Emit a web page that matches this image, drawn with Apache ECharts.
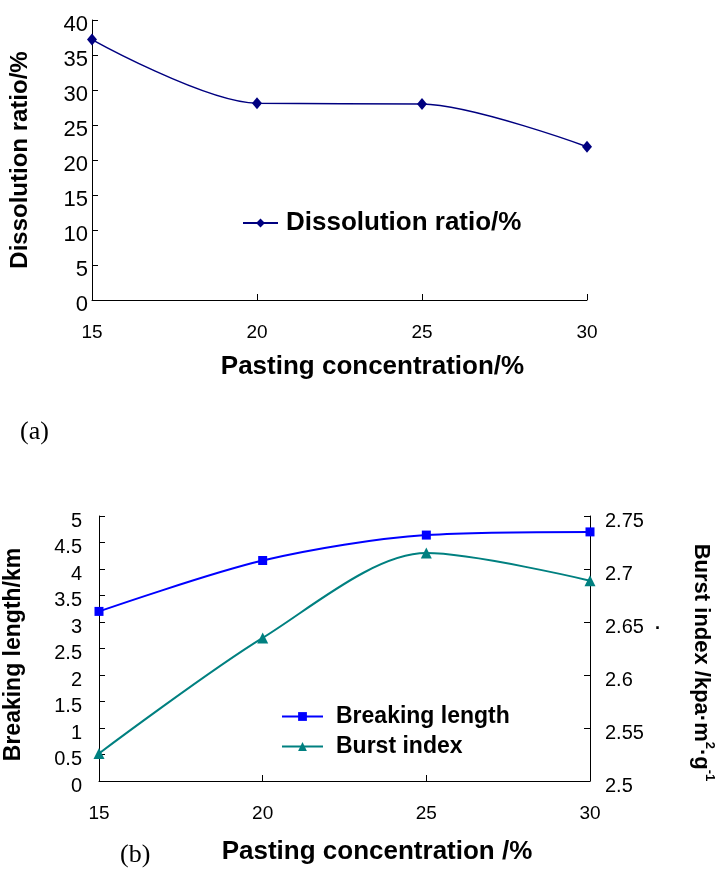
<!DOCTYPE html>
<html>
<head>
<meta charset="utf-8">
<script src="https://cdn.jsdelivr.net/npm/echarts@6/dist/echarts.min.js"></script>
<style>
  html, body { margin: 0; padding: 0; background: #fff; }
  #chart { width: 716px; height: 873px; }
</style>
</head>
<body>
<div id="chart"></div>
<script>
// pasting concentration (%)
const concentration = [15, 20, 25, 30];
// (a) dissolution ratio (%)
const dissolutionRatio = [37.2, 28.1, 28.0, 21.9];
// (b) breaking length (km) and burst index (kpa·m2·g-1)
const breakingLength = [3.2, 4.16, 4.64, 4.7];
const burstIndex = [2.526, 2.635, 2.715, 2.689];

const FONT = "Liberation Sans, Arial, sans-serif";

const pairs = (xs, ys) => xs.map((x, i) => [x, ys[i]]);
const fmt = v => "{t|" + String(Number(v.toFixed(2))) + "}";

const axisCommon = {
  axisLine: { show: true, lineStyle: { color: "#000", width: 1 } },
  axisTick: { show: true, inside: true, length: 6, lineStyle: { color: "#000" } },
  splitLine: { show: false },
  nameTextStyle: { color: "#000", fontFamily: FONT, fontWeight: "bold" }
};

// y tick labels sit a little below their ticks in the original
const yLabel = (size, margin) => ({
  color: "#000", fontSize: size, fontFamily: FONT, margin: margin, formatter: fmt,
  rich: { t: { fontSize: size, fontFamily: FONT, color: "#000", padding: [10, 0, 0, 0] } }
});
const xLabel = { color: "#000", fontSize: 19, fontFamily: FONT, margin: 23 };

const chart = echarts.init(document.getElementById("chart"), null, { renderer: "canvas" });

chart.setOption({
  backgroundColor: "#fff",
  animation: false,
  textStyle: { fontFamily: FONT, color: "#000" },
  grid: [
    { left: 92, right: 129, top: 20, height: 280, containLabel: false, outerBoundsMode: "none" },
    { left: 99, right: 126, top: 516, height: 265, containLabel: false, outerBoundsMode: "none" }
  ],
  xAxis: [
    Object.assign({}, axisCommon, {
      gridIndex: 0, type: "value", min: 15, max: 30, interval: 5,
      axisLabel: xLabel,
      name: "Pasting concentration/%", nameLocation: "middle", nameGap: 54,
      nameTextStyle: Object.assign({}, axisCommon.nameTextStyle, { fontSize: 26, padding: [0, 0, 0, 66] })
    }),
    Object.assign({}, axisCommon, {
      gridIndex: 1, type: "value", min: 15, max: 30, interval: 5,
      axisLabel: xLabel,
      name: "Pasting concentration /%", nameLocation: "middle", nameGap: 58,
      nameTextStyle: Object.assign({}, axisCommon.nameTextStyle, { fontSize: 26, padding: [0, 0, 0, 65] })
    })
  ],
  yAxis: [
    Object.assign({}, axisCommon, {
      gridIndex: 0, type: "value", min: 0, max: 40, interval: 5,
      axisLabel: yLabel(22, 4),
      name: "Dissolution ratio/%", nameLocation: "middle", nameRotate: 90, nameGap: 60,
      nameTextStyle: Object.assign({}, axisCommon.nameTextStyle, { fontSize: 24 })
    }),
    Object.assign({}, axisCommon, {
      gridIndex: 1, type: "value", min: 0, max: 5, interval: 0.5,
      axisLabel: yLabel(20, 17),
      name: "Breaking length/km", nameLocation: "middle", nameRotate: 90, nameGap: 74,
      nameTextStyle: Object.assign({}, axisCommon.nameTextStyle, { fontSize: 23, padding: [0, 12, 0, 0] })
    }),
    Object.assign({}, axisCommon, {
      gridIndex: 1, type: "value", position: "right", min: 2.5, max: 2.75, interval: 0.05,
      axisLabel: yLabel(20, 15),
      name: "{n|Burst index /kpa·m}{s|2}{n|·g}{s|-1}", nameLocation: "middle", nameRotate: -90, nameGap: 100,
      nameTextStyle: Object.assign({}, axisCommon.nameTextStyle, {
        fontSize: 22, padding: [0, 0, 0, 28],
        rich: {
          n: { fontSize: 22, fontWeight: "bold", fontFamily: FONT, color: "#000", lineHeight: 26, verticalAlign: "bottom" },
          s: { fontSize: 13, fontWeight: "bold", fontFamily: FONT, color: "#000", lineHeight: 26, verticalAlign: "top" }
        }
      })
    })
  ],
  legend: [
    {
      data: ["Dissolution ratio/%"], left: 242, top: 210, padding: 0,
      itemWidth: 35, itemHeight: 11,
      textStyle: { fontSize: 26, fontWeight: "bold", fontFamily: FONT, color: "#000", padding: [0, 0, 0, 3] }
    },
    {
      data: ["Breaking length", "Burst index"], orient: "vertical", left: 281, top: 705, padding: 0,
      itemWidth: 41, itemHeight: 11, itemGap: 7,
      textStyle: { fontSize: 23, fontWeight: "bold", fontFamily: FONT, color: "#000", padding: [0, 0, 0, 8] }
    }
  ],
  series: [
    {
      name: "Dissolution ratio/%", type: "line", xAxisIndex: 0, yAxisIndex: 0,
      data: pairs(concentration, dissolutionRatio), smooth: 0.3,
      symbol: "diamond", symbolSize: [10, 12],
      lineStyle: { color: "#000080", width: 1.5 }, itemStyle: { color: "#000080" }
    },
    {
      name: "Breaking length", type: "line", xAxisIndex: 1, yAxisIndex: 1,
      data: pairs(concentration, breakingLength), smooth: 0.3,
      symbol: "rect", symbolSize: 9,
      lineStyle: { color: "#0000ff", width: 2 }, itemStyle: { color: "#0000ff" }
    },
    {
      name: "Burst index", type: "line", xAxisIndex: 1, yAxisIndex: 2,
      data: pairs(concentration, burstIndex), smooth: 0.3,
      symbol: "triangle", symbolSize: 11,
      lineStyle: { color: "#008080", width: 2 }, itemStyle: { color: "#008080" }
    }
  ],
  graphic: [
    { type: "text", left: 20, top: 419, style: { text: "(a)", font: "26px Liberation Serif, Times New Roman, serif", fill: "#000" } },
    { type: "text", left: 120, top: 842, style: { text: "(b)", font: "26px Liberation Serif, Times New Roman, serif", fill: "#000" } },
    { type: "text", left: 655, top: 620, style: { text: "·", font: "bold 18px Liberation Sans, Arial, sans-serif", fill: "#000" } }
  ]
});
</script>
</body>
</html>
